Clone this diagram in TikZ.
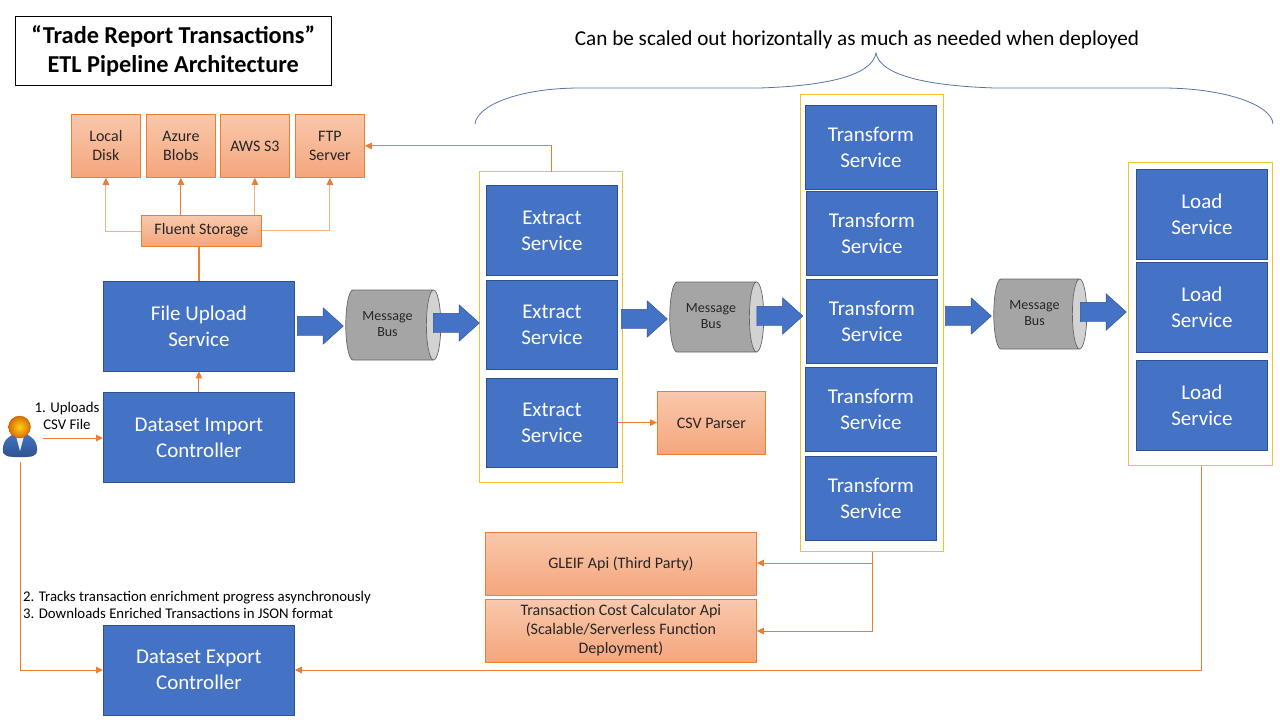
\documentclass[tikz,border=0pt]{standalone}
\usepackage{fontspec}
\setmainfont{Carlito}
\usetikzlibrary{shapes.geometric,shapes.arrows,arrows.meta}
\definecolor{blu}{HTML}{4472C4}
\definecolor{bluedge}{HTML}{2F528F}
\definecolor{org}{HTML}{ED7D31}
\definecolor{orgpale}{HTML}{F4B183}
\definecolor{peachtop}{HTML}{F9C8AC}
\definecolor{peachbot}{HTML}{F4A67C}
\definecolor{yel}{HTML}{F0C22E}
\definecolor{busbody}{HTML}{A5A5A5}
\definecolor{busend}{HTML}{D2D2D2}
\tikzset{x=1pt,y=-1pt,
 bluebox/.style={draw=bluedge,line width=.8pt,fill=blu,text=white,align=center,font=\fontsize{21}{26}\selectfont,inner sep=0pt,anchor=north west},
 peach/.style={draw=org,line width=.8pt,top color=peachtop,bottom color=peachbot,text=black!85,align=center,font=\fontsize{16}{19}\selectfont,inner sep=0pt,anchor=north west},
 yelbox/.style={draw=yel,line width=1.3pt,inner sep=0pt,outer sep=0pt,anchor=north west},
 link/.style={draw=org,line width=1pt,-{Triangle[length=7pt,width=6.5pt]}},
 bar/.style={draw=org,line width=.9pt},
 linkb/.style={draw=orgpale,line width=1pt,-{Triangle[length=7pt,width=6.5pt,fill=org,color=org]}},
 blockarrow/.style={single arrow,draw=bluedge,line width=.4pt,fill=blu,minimum height=46pt,minimum width=0pt,single arrow head extend=8.5pt,single arrow tip angle=84,inner xsep=0pt,inner ysep=9.5pt,anchor=center},
 bus/.style={cylinder,shape aspect=.45,draw=black!60,line width=.7pt,cylinder uses custom fill,cylinder body fill=busbody,cylinder end fill=busend,align=center,text=black!85,font=\fontsize{14}{16}\selectfont,inner sep=0pt,minimum height=95pt,minimum width=70pt,anchor=center},
 lbl/.style={text=black,align=left,inner sep=0pt,font=\fontsize{14.8}{17}\selectfont},
}
\newcommand{\bustxt}{\hspace*{-4pt}\raisebox{-6pt}{\begin{tabular}{@{}c@{}}Message\\Bus\end{tabular}}}
\begin{document}
\begin{tikzpicture}
\useasboundingbox (0,0) rectangle (1280,720);
\fill[white] (0,0) rectangle (1280,720);
% title
\node[draw=black,line width=1pt,anchor=north west,minimum width=315.5pt,minimum height=68.5pt,inner sep=0pt,align=center,font=\fontsize{24.3}{29}\selectfont\bfseries] (title) at (15,16) {“Trade Report Transactions”\\ETL Pipeline Architecture};
\node[font=\fontsize{21.2}{24}\selectfont,inner sep=0pt] (scaled) at (857,39.5) {Can be scaled out horizontally as much as needed when deployed};
% brace
\draw[draw=bluedge!80,line width=.8pt] (475,124) .. controls (477,105) and (520,88) .. (580,88) -- (759,88) .. controls (825,86) and (872,76) .. (876,53) .. controls (880,76) and (930,86) .. (995,88) -- (1162,88) .. controls (1225,88) and (1272,105) .. (1273,124);
% yellow containers
\node[yelbox,minimum width=143pt,minimum height=457pt] (boxT) at (800.5,94.5) {};
\node[yelbox,minimum width=144pt,minimum height=303pt] (boxL) at (1128.5,162.5) {};
\node[yelbox,minimum width=143pt,minimum height=311pt] (boxE) at (479.5,171.5) {};
% storage
\node[peach,minimum width=69pt,minimum height=63pt] (disk) at (71,114) {Local\\Disk};
\node[peach,minimum width=69pt,minimum height=63pt] (azure) at (146,114) {Azure\\Blobs};
\node[peach,minimum width=69pt,minimum height=63pt] (aws) at (220,114) {AWS S3};
\node[peach,minimum width=69pt,minimum height=63pt] (ftp) at (295,114) {FTP\\Server};
\node[peach,minimum width=120pt,minimum height=30.5pt] (fluent) at (141,215) {Fluent Storage};
% services
\node[bluebox,minimum width=191pt,minimum height=89.5pt] (upload) at (103,281) {File Upload\\Service};
\node[bluebox,minimum width=191pt,minimum height=90pt] (import) at (103,392) {Dataset Import\\Controller};
\node[bluebox,minimum width=191pt,minimum height=89.5pt] (export) at (103,625) {Dataset Export\\Controller};
\node[bluebox,minimum width=131pt,minimum height=90pt] (e1) at (486,185) {Extract\\Service};
\node[bluebox,minimum width=131pt,minimum height=89.5pt] (e2) at (486,279.5) {Extract\\Service};
\node[bluebox,minimum width=131pt,minimum height=89.5pt] (e3) at (486,377.5) {Extract\\Service};
\node[bluebox,minimum width=131pt,minimum height=83.5pt] (t1) at (805,105) {Transform\\Service};
\node[bluebox,minimum width=131pt,minimum height=83.5pt] (t2) at (806,191) {Transform\\Service};
\node[bluebox,minimum width=131pt,minimum height=83.5pt] (t3) at (806,279) {Transform\\Service};
\node[bluebox,minimum width=131pt,minimum height=83.5pt] (t4) at (805,367) {Transform\\Service};
\node[bluebox,minimum width=131pt,minimum height=83.5pt] (t5) at (805,456) {Transform\\Service};
\node[bluebox,minimum width=131pt,minimum height=89.5pt] (l1) at (1136,169) {Load\\Service};
\node[bluebox,minimum width=131pt,minimum height=89.5pt] (l2) at (1136,262) {Load\\Service};
\node[bluebox,minimum width=131pt,minimum height=89.5pt] (l3) at (1136,360) {Load\\Service};
\node[peach,minimum width=108pt,minimum height=63pt] (csv) at (657,391) {CSV Parser};
\node[peach,minimum width=271pt,minimum height=62.5pt] (gleif) at (485,532) {GLEIF Api (Third Party)};
\node[peach,minimum width=271pt,minimum height=62.5pt] (cost) at (485,599) {Transaction Cost Calculator Api\\(Scalable/Serverless Function\\Deployment)};
% buses
\node[bus] (b1) at (389.5,325) {\bustxt};
\node[bus,minimum height=94pt] (b2) at (713,317) {\bustxt};
\node[bus,minimum height=93pt] (b3) at (1036.5,314) {\bustxt};
% block arrows
\node[blockarrow] (a1) at (315,326) {};
\node[blockarrow] (a2) at (451,323) {};
\node[blockarrow] (a3) at (639,319) {};
\node[blockarrow] (a4) at (774.5,316) {};
\node[blockarrow] (a5) at (963,316) {};
\node[blockarrow] (a6) at (1098,312) {};
% user
\coordinate (userbottom) at (20,462);
\coordinate (userright) at (43,438);
\shade[top color=blu,bottom color=bluedge,draw=bluedge,line width=.3pt] (3,450) .. controls (3,441) and (9,436) .. (15,434) -- (25,434) .. controls (31,436) and (37,441) .. (37,450) .. controls (37,456) and (32,457) .. (20,457) .. controls (8,457) and (3,456) .. (3,450) -- cycle;
\fill[white!90!blu] (15.5,434) -- (24.5,434) -- (20,451) -- cycle;
\shade[inner color=orange!40!yellow!90,outer color=orange!85!black,draw=orange!70!black,line width=.3pt] (19.5,427) circle (11);
\node[lbl,align=center] (uplabel) at (67,415.5) {1. Uploads\\CSV File};
\node[lbl,anchor=north west] (tracklabel) at (23,591) {2. Tracks transaction enrichment progress asynchronously\\3. Downloads Enriched Transactions in JSON format};
% connectors
\draw[link] (userright) -- (import.west |- userright);
\draw[link] (userbottom) |- (export.west |- 0,670);
\draw[link] (import.north) -- (upload.south);
\draw[bar,line width=1.8pt] (upload.north) -- (upload.north |- fluent.south);
\draw[linkb] (fluent.west |- 0,231) -| (disk.south);
\draw[link] (azure.south |- fluent.north) -- (azure.south);
\draw[linkb] (aws.south |- fluent.north) -- (aws.south);
\draw[linkb] (fluent.east |- 0,230) -| (ftp.south);
\draw[link] (e1.north |- boxE.north) |- (ftp.east);
\draw[link] (e3.east) -- (csv.west |- e3.east);
\draw[link] (boxT.south -| 872,0) |- (gleif.east |- 0,563);
\draw[link] (boxT.south -| 872,0) |- (cost.east |- 0,631);
\draw[link] (boxL.south) ++(0.5,0) |- (export.east |- 0,670);
\end{tikzpicture}
\end{document}
